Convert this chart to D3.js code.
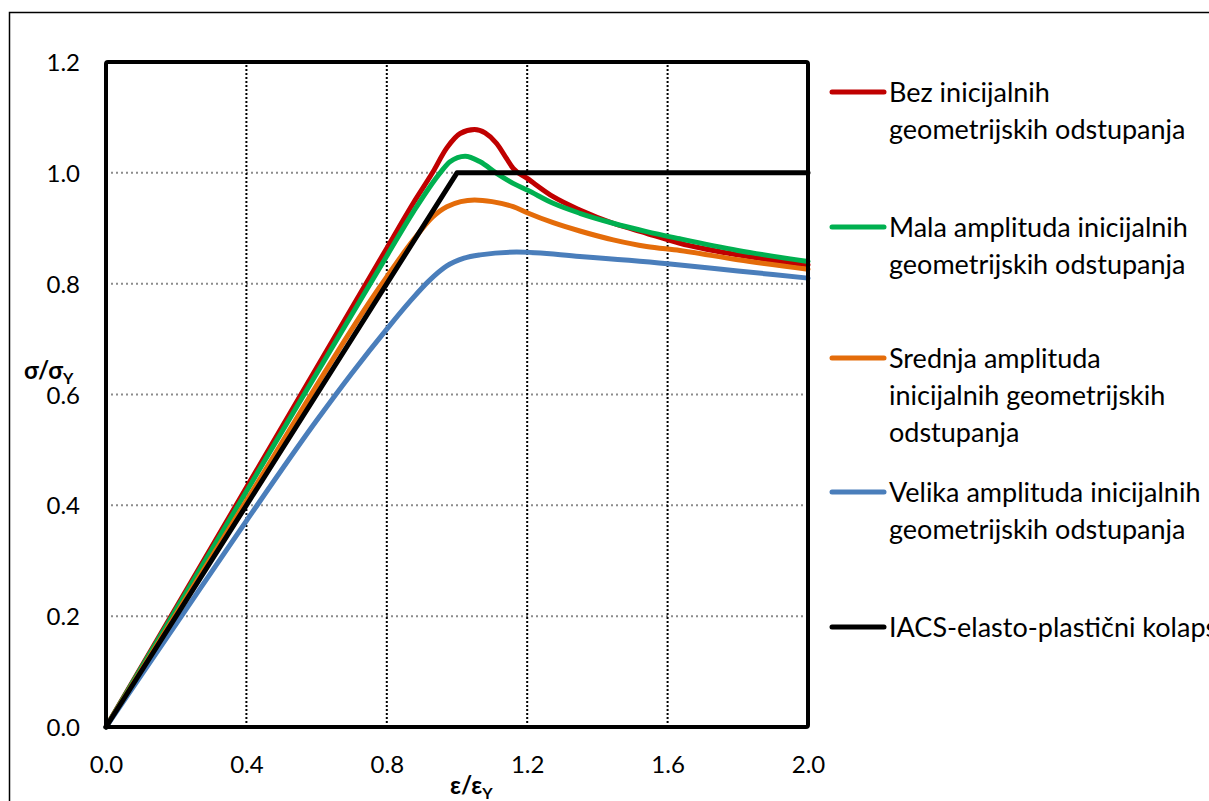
<!DOCTYPE html>
<html>
<head>
<meta charset="utf-8">
<script src="https://cdn.jsdelivr.net/npm/d3@7"></script>
<style>
  html, body { margin: 0; padding: 0; background: #fff; }
  svg { display: block; font-family: Lato, "Open Sans", sans-serif; }
</style>
</head>
<body>
<svg id="chart" width="1209" height="801"></svg>
<script>
// ---- data ----
const xTicks = [0.0, 0.4, 0.8, 1.2, 1.6, 2.0];
const yTicks = [0.0, 0.2, 0.4, 0.6, 0.8, 1.0, 1.2];

const seriesNames = [
  ["Bez inicijalnih", "geometrijskih odstupanja"],
  ["Mala amplituda inicijalnih", "geometrijskih odstupanja"],
  ["Srednja amplituda", "inicijalnih geometrijskih", "odstupanja"],
  ["Velika amplituda inicijalnih", "geometrijskih odstupanja"],
  ["IACS-elasto-plastični kolaps"]
];
const seriesColors = ["#C00000", "#00B050", "#E46C0A", "#4A7EBB", "#000000"];

const bezX = [0, 0.4, 0.8, 0.876, 0.93, 0.971, 1.009, 1.05, 1.08, 1.113, 1.141, 1.16, 1.2, 1.274, 1.35, 1.445, 1.54, 1.635, 1.8, 2.0];
const bezY = [0, 0.432, 0.864, 0.946, 1.0, 1.045, 1.071, 1.078, 1.072, 1.053, 1.026, 1.008, 0.99, 0.957, 0.933, 0.909, 0.891, 0.873, 0.852, 0.834];

const malaX = [0, 0.4, 0.8, 0.876, 0.952, 0.98, 1.023, 1.066, 1.113, 1.16, 1.2, 1.274, 1.35, 1.445, 1.54, 1.635, 1.8, 2.0];
const malaY = [0, 0.425, 0.85, 0.93, 1.0, 1.02, 1.03, 1.02, 0.999, 0.981, 0.969, 0.945, 0.927, 0.909, 0.894, 0.881, 0.86, 0.84];

const srednjaX = [0, 0.4, 0.78, 0.876, 0.93, 0.971, 1.05, 1.1, 1.16, 1.2, 1.274, 1.35, 1.445, 1.54, 1.635, 1.8, 2.0];
const srednjaY = [0, 0.408, 0.794, 0.879, 0.92, 0.939, 0.951, 0.948, 0.939, 0.928, 0.91, 0.895, 0.879, 0.867, 0.86, 0.843, 0.826];

const velikaX = [0, 0.2, 0.4, 0.6, 0.7, 0.8, 0.866, 0.92, 0.971, 1.02, 1.066, 1.17, 1.35, 1.6, 1.8, 2.0];
const velikaY = [0, 0.186, 0.372, 0.553, 0.638, 0.718, 0.768, 0.805, 0.832, 0.846, 0.852, 0.857, 0.849, 0.836, 0.823, 0.810];

const iacsX = [0, 1.0, 2.0];
const iacsY = [0, 1.0, 1.0];

const seriesX = [bezX, malaX, srednjaX, velikaX, iacsX];
const seriesY = [bezY, malaY, srednjaY, velikaY, iacsY];

// ---- chart ----
const svg = d3.select("#chart");
svg.append("rect").attr("width", 1209).attr("height", 801).attr("fill", "#fff");
svg.append("rect").attr("x", 9.5).attr("y", 12.5).attr("width", 1400).attr("height", 1000)
  .attr("fill", "none").attr("stroke", "#000").attr("stroke-width", 1.5);

const x = d3.scaleLinear().domain([0, 2]).range([106, 808]);
const y = d3.scaleLinear().domain([0, 1.2]).range([727, 62]);

// gridlines
svg.append("g").selectAll("line").data(yTicks.slice(1, -1)).join("line")
  .attr("x1", x(0)).attr("x2", x(2)).attr("y1", d => y(d)).attr("y2", d => y(d))
  .attr("stroke", "#8c8c8c").attr("stroke-width", 2).attr("stroke-dasharray", "2,3");
svg.append("g").selectAll("line").data(xTicks.slice(1, -1)).join("line")
  .attr("y1", y(0)).attr("y2", y(1.2)).attr("x1", d => x(d)).attr("x2", d => x(d))
  .attr("stroke", "#000").attr("stroke-width", 2).attr("stroke-dasharray", "2,2");

// axes (labels only)
const xAxis = d3.axisBottom(x).tickValues(xTicks).tickFormat(d3.format(".1f")).tickSize(0).tickPadding(0);
const gx = svg.append("g").attr("transform", `translate(0,${y(0)})`).call(xAxis);
gx.select(".domain").remove();
gx.selectAll("text").attr("font-size", 24).attr("font-family", "Lato").attr("fill", "#000")
  .attr("dy", null).attr("y", 46);

const yAxis = d3.axisLeft(y).tickValues(yTicks).tickFormat(d3.format(".1f")).tickSize(0).tickPadding(0);
const gy = svg.append("g").attr("transform", `translate(80,0)`).call(yAxis);
gy.select(".domain").remove();
gy.selectAll("text").attr("font-size", 24).attr("font-family", "Lato").attr("fill", "#000")
  .attr("x", 0).attr("dy", "0.36em");

// series lines
const line = d3.line().x(d => x(d[0])).y(d => y(d[1])).curve(d3.curveMonotoneX);
seriesX.forEach((xs, i) => {
  const pts = xs.map((v, j) => [v, seriesY[i][j]]);
  svg.append("path").datum(pts)
    .attr("d", i === 4 ? d3.line().x(d => x(d[0])).y(d => y(d[1]))(pts) : line(pts))
    .attr("fill", "none").attr("stroke", seriesColors[i]).attr("stroke-width", 5)
    .attr("stroke-linejoin", "round").attr("stroke-linecap", "round");
});

// plot border
svg.append("rect").attr("x", x(0)).attr("y", y(1.2)).attr("width", x(2) - x(0)).attr("height", y(0) - y(1.2))
  .attr("fill", "none").attr("stroke", "#000").attr("stroke-width", 4).attr("rx", 2);

// axis titles
const yt = svg.append("text").attr("x", 24).attr("y", 379).attr("font-size", 24).attr("font-weight", "bold")
  .attr("font-family", "Lato");
yt.append("tspan").text("σ/σ");
yt.append("tspan").text("Y").attr("font-size", 16).attr("dy", 5);

const xt = svg.append("text").attr("x", 450).attr("y", 794).attr("font-size", 24).attr("font-weight", "bold")
  .attr("font-family", "Lato");
xt.append("tspan").text("ε/ε");
xt.append("tspan").text("Y").attr("font-size", 16).attr("dy", 5);

// legend
const legendY = [92, 227, 358, 492, 627];
const lineGap = 37;
seriesNames.forEach((lines, i) => {
  const g = svg.append("g");
  g.append("line").attr("x1", 832).attr("x2", 884).attr("y1", legendY[i]).attr("y2", legendY[i])
    .attr("stroke", seriesColors[i]).attr("stroke-width", 5).attr("stroke-linecap", "round");
  lines.forEach((t, k) => {
    g.append("text").attr("x", 889).attr("y", legendY[i] + k * lineGap).attr("dy", "0.36em")
      .attr("font-size", 27).attr("font-family", "Lato").attr("fill", "#000").text(t);
  });
});
</script>
</body>
</html>
